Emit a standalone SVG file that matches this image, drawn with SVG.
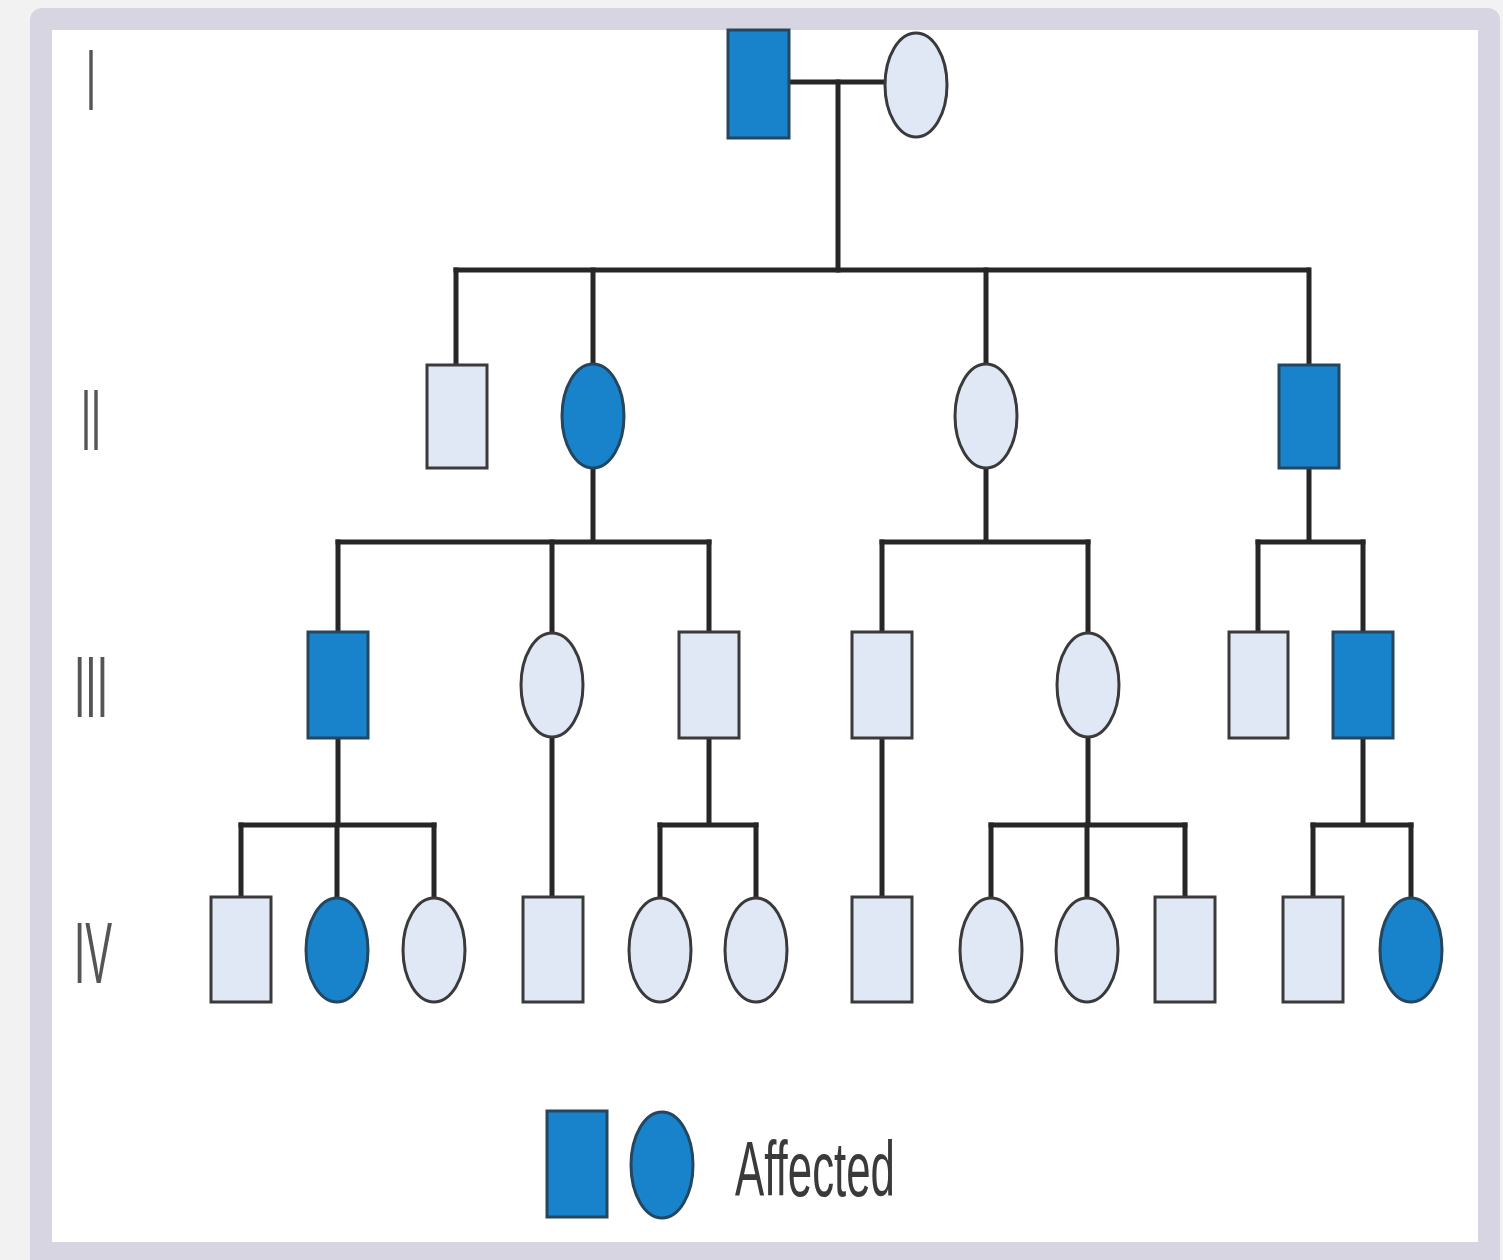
<svg xmlns="http://www.w3.org/2000/svg" width="1503" height="1260" viewBox="0 0 1503 1260">
  <style>
    .line { stroke: #262626; stroke-width: 5; fill: none; stroke-linecap: square; }
    .well { fill: #dfe8f4; stroke: #3a3a3a; stroke-width: 3; }
    .aff { fill: #1882cb; stroke: #24465e; stroke-width: 3; }
    .gen { font-family: "Liberation Sans", Arial, sans-serif; font-size: 88px; fill: #555; text-anchor: middle; }
    .legend { font-family: "Liberation Sans", Arial, sans-serif; font-size: 77px; fill: #3a3a3a; }
  </style>

  <!-- page and frame -->
  <rect x="0" y="0" width="1503" height="1260" fill="#f2f2f2"/>
  <rect x="30" y="8" width="1470" height="1272" rx="12" fill="#d8d5e3"/>
  <rect x="52" y="30" width="1426" height="1212" fill="#ffffff"/>

  <!-- generation labels -->
  <g id="generation-labels">
    <text class="gen" x="91" y="110" textLength="10" lengthAdjust="spacingAndGlyphs">I</text>
    <text class="gen" x="91" y="450" textLength="20" lengthAdjust="spacingAndGlyphs">II</text>
    <text class="gen" x="91" y="717" textLength="34" lengthAdjust="spacingAndGlyphs">III</text>
    <text class="gen" x="93" y="983" textLength="38" lengthAdjust="spacingAndGlyphs">IV</text>
  </g>

  <!-- connectors -->
  <g id="connectors" class="line">
    <!-- generation I couple and descent -->
    <path d="M789 82 H885"/>
    <path d="M838 82 V270"/>
    <path d="M456 270 H1308"/>
    <path d="M456 270 V365 M593 270 V364 M986 270 V364 M1309 270 V365"/>
    <!-- II-2 offspring -->
    <path d="M593 468 V542 M338 542 H709"/>
    <path d="M338 542 V632 M552 542 V633 M709 542 V632"/>
    <!-- II-3 offspring -->
    <path d="M986 468 V542 M882 542 H1088"/>
    <path d="M882 542 V632 M1088 542 V633"/>
    <!-- II-4 offspring -->
    <path d="M1309 468 V542 M1258 542 H1363"/>
    <path d="M1258 542 V632 M1363 542 V632"/>
    <!-- III-1 offspring -->
    <path d="M338 738 V825 M241 825 H434"/>
    <path d="M241 825 V897 M337 825 V898 M434 825 V898"/>
    <!-- III-2 offspring -->
    <path d="M552 737 V897"/>
    <!-- III-3 offspring -->
    <path d="M709 738 V825 M660 825 H756"/>
    <path d="M660 825 V898 M756 825 V898"/>
    <!-- III-4 offspring -->
    <path d="M882 738 V897"/>
    <!-- III-5 offspring -->
    <path d="M1088 737 V825 M991 825 H1185"/>
    <path d="M991 825 V898 M1087 825 V898 M1185 825 V897"/>
    <!-- III-7 offspring -->
    <path d="M1363 738 V825 M1313 825 H1411"/>
    <path d="M1313 825 V897 M1411 825 V898"/>
  </g>

  <!-- generation I -->
  <g id="I-1"><rect class="aff" x="728" y="30" width="61" height="108"/></g>
  <g id="I-2"><ellipse class="well" cx="916" cy="85" rx="31" ry="52"/></g>

  <!-- generation II -->
  <g id="II-1"><rect class="well" x="427" y="365" width="60" height="103"/></g>
  <g id="II-2"><ellipse class="aff" cx="593" cy="416" rx="31" ry="52"/></g>
  <g id="II-3"><ellipse class="well" cx="986" cy="416" rx="31" ry="52"/></g>
  <g id="II-4"><rect class="aff" x="1279" y="365" width="60" height="103"/></g>

  <!-- generation III -->
  <g id="III-1"><rect class="aff" x="308" y="632" width="60" height="106"/></g>
  <g id="III-2"><ellipse class="well" cx="552" cy="685" rx="31" ry="52"/></g>
  <g id="III-3"><rect class="well" x="679" y="632" width="60" height="106"/></g>
  <g id="III-4"><rect class="well" x="852" y="632" width="60" height="106"/></g>
  <g id="III-5"><ellipse class="well" cx="1088" cy="685" rx="31" ry="52"/></g>
  <g id="III-6"><rect class="well" x="1229" y="632" width="59" height="106"/></g>
  <g id="III-7"><rect class="aff" x="1333" y="632" width="60" height="106"/></g>

  <!-- generation IV -->
  <g id="IV-1"><rect class="well" x="211" y="897" width="60" height="105"/></g>
  <g id="IV-2"><ellipse class="aff" cx="337" cy="950" rx="31" ry="52"/></g>
  <g id="IV-3"><ellipse class="well" cx="434" cy="950" rx="31" ry="52"/></g>
  <g id="IV-4"><rect class="well" x="523" y="897" width="60" height="105"/></g>
  <g id="IV-5"><ellipse class="well" cx="660" cy="950" rx="31" ry="52"/></g>
  <g id="IV-6"><ellipse class="well" cx="756" cy="950" rx="31" ry="52"/></g>
  <g id="IV-7"><rect class="well" x="852" y="897" width="60" height="105"/></g>
  <g id="IV-8"><ellipse class="well" cx="991" cy="950" rx="31" ry="52"/></g>
  <g id="IV-9"><ellipse class="well" cx="1087" cy="950" rx="31" ry="52"/></g>
  <g id="IV-10"><rect class="well" x="1155" y="897" width="60" height="105"/></g>
  <g id="IV-11"><rect class="well" x="1283" y="897" width="60" height="105"/></g>
  <g id="IV-12"><ellipse class="aff" cx="1411" cy="950" rx="31" ry="52"/></g>

  <!-- legend -->
  <g id="legend">
    <rect class="aff" x="547" y="1111" width="60" height="106"/>
    <ellipse class="aff" cx="662" cy="1165" rx="31" ry="53"/>
    <text class="legend" x="735" y="1196" textLength="160" lengthAdjust="spacingAndGlyphs">Affected</text>
  </g>
</svg>
